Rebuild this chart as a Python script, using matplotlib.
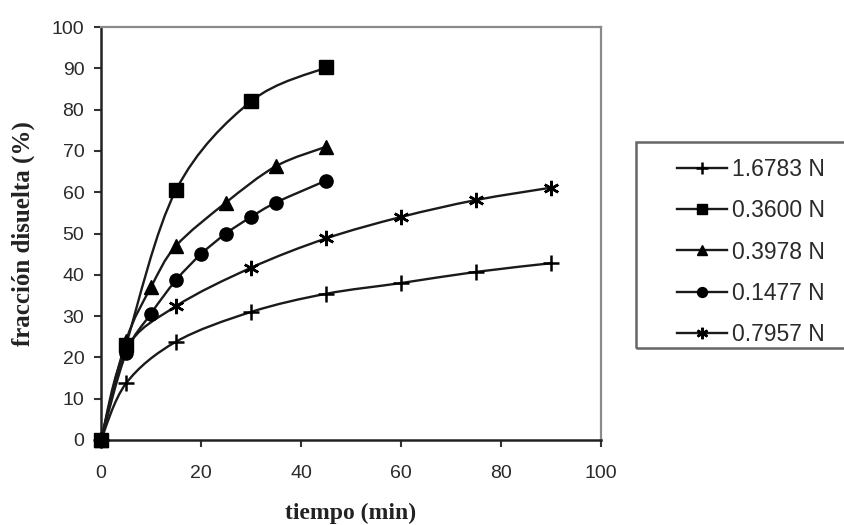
import numpy as np
import matplotlib
matplotlib.use("Agg")
import matplotlib.pyplot as plt
from matplotlib.path import Path
from matplotlib.patches import PathPatch, Rectangle
from matplotlib.lines import Line2D

# data: tiempo (min) vs fraccion disuelta (%)
t_16783 = [0, 5, 15, 30, 45, 60, 75, 90]
f_16783 = [0, 13.7, 23.8, 31.0, 35.4, 38.0, 40.7, 42.8]

t_03600 = [0, 5, 15, 30, 45]
f_03600 = [0, 23.0, 60.5, 82.0, 90.2]

t_03978 = [0, 5, 10, 15, 25, 35, 45]
f_03978 = [0, 24.0, 37.0, 47.0, 57.5, 66.3, 71.0]

t_01477 = [0, 5, 10, 15, 20, 25, 30, 35, 45]
f_01477 = [0, 21.0, 30.6, 38.7, 45.0, 50.0, 54.0, 57.5, 62.8]

t_07957 = [0, 5, 15, 30, 45, 60, 75, 90]
f_07957 = [0, 22.0, 32.4, 41.7, 48.8, 54.0, 58.1, 61.1]

labels = ["1.6783 N", "0.3600 N", "0.3978 N", "0.1477 N", "0.7957 N"]
x_ticks = [0, 20, 40, 60, 80, 100]
y_ticks = [0, 10, 20, 30, 40, 50, 60, 70, 80, 90, 100]

STAR = (6, 2, 0)  # asterisk like the excel "star" marker
series = [
    (t_16783, f_16783, "+", 11, 1.8),
    (t_03600, f_03600, "s", 10, 1.0),
    (t_03978, f_03978, "^", 9.5, 1.0),
    (t_01477, f_01477, "o", 9.5, 1.0),
    (t_07957, f_07957, STAR, 11, 1.8),
]


def smooth_path(x, y):
    # excel-style smoothed line: bezier segments through the data points
    pts = np.column_stack([x, y]).astype(float)
    n = len(pts)
    verts = [pts[0]]
    codes = [Path.MOVETO]
    for i in range(n - 1):
        p0 = pts[i - 1] if i > 0 else pts[i]
        p1 = pts[i]
        p2 = pts[i + 1]
        p3 = pts[i + 2] if i + 2 < n else pts[i + 1]
        verts += [p1 + (p2 - p0) / 6.0, p2 - (p3 - p1) / 6.0, p2]
        codes += [Path.CURVE4] * 3
    return Path(verts, codes)


fig = plt.figure(figsize=(8.45, 5.25), dpi=100)
ax = fig.add_axes([101 / 845, 85 / 525, 500 / 845, 413 / 525])

line_col = "#1a1a1a"
for x, y, m, ms, mew in series:
    ax.add_patch(PathPatch(smooth_path(x, y), fill=False, edgecolor=line_col,
                           lw=1.7, zorder=3, clip_on=False))
    ax.plot(x, y, linestyle="none", marker=m, markersize=ms, color="black",
            markeredgewidth=mew, zorder=4, clip_on=False)

ax.set_xlim(0, 100)
ax.set_ylim(0, 100)
ax.set_xticks(x_ticks)
ax.set_yticks(y_ticks)

tick_font = {"family": "Liberation Sans", "size": 14}
ax.set_xticklabels([str(v) for v in x_ticks], fontdict=tick_font, color="#2a2a2a")
ax.set_yticklabels([str(v) for v in y_ticks], fontdict=tick_font, color="#2a2a2a")
ax.tick_params(direction="out", length=5, width=1.5, color="#333333")
ax.tick_params(axis="y", pad=7)
ax.tick_params(axis="x", pad=13)

for side in ["left", "bottom"]:
    ax.spines[side].set_color("#222222")
    ax.spines[side].set_linewidth(1.8)
for side in ["top", "right"]:
    ax.spines[side].set_color("#8a8a8a")
    ax.spines[side].set_linewidth(1.6)

ax.set_xlabel("tiempo (min)", family="Liberation Serif", fontweight="bold",
              fontsize=17, color="#222222", labelpad=15)
ax.set_ylabel("fracción disuelta (%)", family="Liberation Serif", fontweight="bold",
              fontsize=18, color="#222222", labelpad=12)

# legend outside the plot area, with an excel-like box
fig.patches.append(Rectangle((636 / 845, 1 - 348 / 525), 220 / 845, 206 / 525,
                             transform=fig.transFigure, fill=False,
                             edgecolor="#666666", lw=1.8))
handles = [Line2D([], [], color=line_col, lw=1.7, marker=m, markersize=ms * 0.75,
                  markeredgewidth=mew, markerfacecolor="black", markeredgecolor="black")
           for _, _, m, ms, mew in series]
fig.legend(handles, labels, loc="center left", bbox_to_anchor=(677 / 845, 1 - 252 / 525),
           frameon=False, prop={"family": "Liberation Sans", "size": 16.5},
           handlelength=2.2, handletextpad=0.2, labelspacing=0.8, labelcolor="#2a2a2a",
           borderpad=0, borderaxespad=0)

fig.savefig("out.png", dpi=100, facecolor="white")
